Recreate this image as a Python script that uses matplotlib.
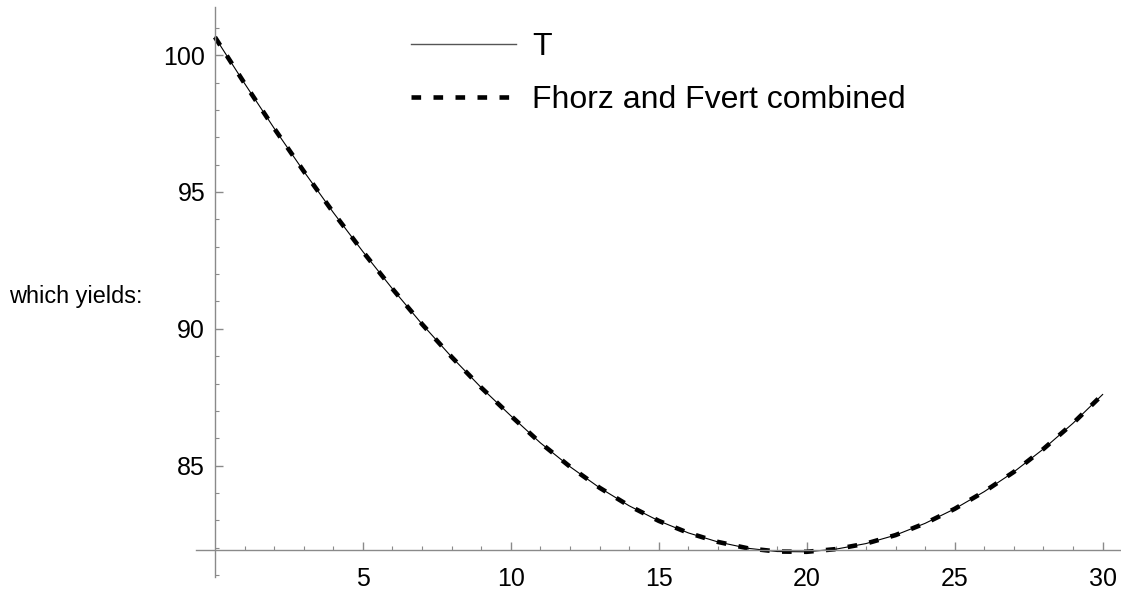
import matplotlib
matplotlib.use("Agg")
import matplotlib.pyplot as plt
from matplotlib.ticker import FixedLocator
from matplotlib.lines import Line2D

plt.rcParams['font.family'] = ['Liberation Sans', 'DejaVu Sans']

# Data
x_vals = list(range(0, 31))
T_vals = [100.66, 98.97, 97.33, 95.76, 94.25, 92.82, 91.46, 90.17, 88.97, 87.85,
          86.82, 85.83, 84.96, 84.19, 83.53, 82.98, 82.54, 82.21, 81.98, 81.86,
          81.85, 81.95, 82.15, 82.46, 82.89, 83.42, 84.05, 84.77, 85.61, 86.55,
          87.60]
F_vals = list(T_vals)
series_labels = ["T", "Fhorz and Fvert combined"]
x_major = [5, 10, 15, 20, 25, 30]
y_major = [85, 90, 95, 100]
side_text = "which yields:"

W, H = 1121, 590
fig = plt.figure(figsize=(W / 100, H / 100), dpi=100)
ax = fig.add_axes([196 / W, 1 - 576.7 / H, (W - 196) / W, (576.7 - 7.3) / H])
ax.set_xlim(-0.64, 30.62)
ax.set_ylim(80.94, 101.75)

axis_col = '#8a8a8a'
for s in ['top', 'right']:
    ax.spines[s].set_visible(False)
ax.spines['left'].set_position(('data', 0))
ax.spines['bottom'].set_position(('data', 81.92))
for s in ['left', 'bottom']:
    ax.spines[s].set_color(axis_col)
    ax.spines[s].set_linewidth(1.0)

ax.plot(x_vals, T_vals, color='black', lw=0.8, label=series_labels[0])
ax.plot(x_vals, F_vals, color='black', lw=3.3, dashes=(2.1, 2.7),
        label=series_labels[1])

ax.xaxis.set_major_locator(FixedLocator(x_major))
ax.xaxis.set_minor_locator(FixedLocator([v for v in range(1, 31) if v % 5 != 0]))
ax.yaxis.set_major_locator(FixedLocator(y_major))
ax.yaxis.set_minor_locator(FixedLocator([v for v in range(81, 102) if v % 5 != 0]))

ax.tick_params(axis='both', which='major', direction='in', length=5.5, width=1.0,
               color=axis_col, labelsize=18, labelcolor='black')
ax.tick_params(axis='both', which='minor', direction='in', length=3, width=0.8,
               color=axis_col)
ax.tick_params(axis='x', which='major', pad=12)
ax.tick_params(axis='y', which='major', pad=7)

h1 = Line2D([], [], color='#555555', lw=1.0)
h2 = Line2D([], [], color='black', lw=3.3, dashes=(2.1, 2.7))
fig.legend([h1, h2], series_labels, loc='upper left',
           bbox_to_anchor=(411 / W, 1 - 32 / H), frameon=False,
           fontsize=23, handlelength=3.3, handletextpad=0.5,
           labelspacing=0.72, borderpad=0, borderaxespad=0)

fig.text(9 / W, 1 - 297 / H, side_text, fontsize=16.9, va='center', ha='left')

fig.savefig("out.png", dpi=100)
